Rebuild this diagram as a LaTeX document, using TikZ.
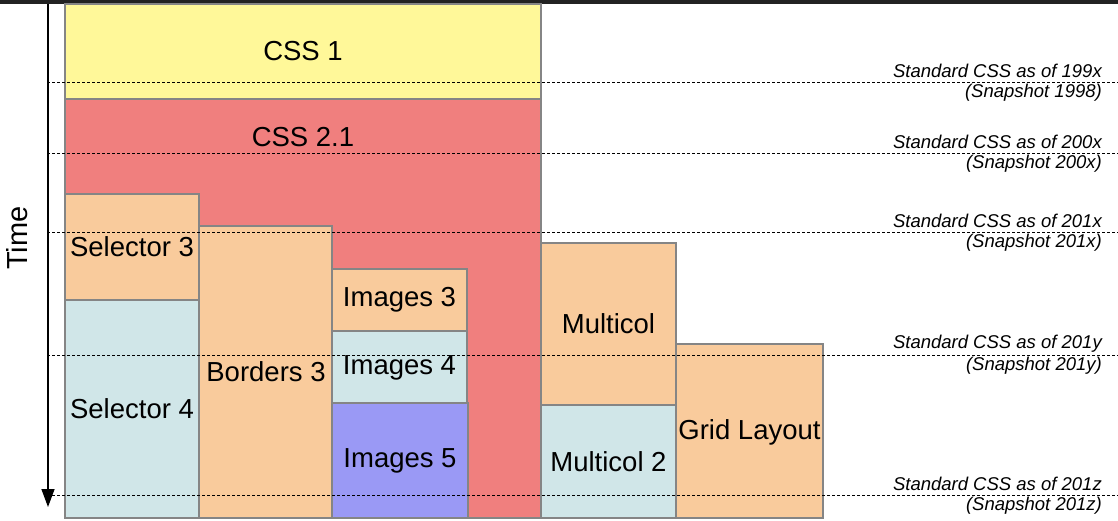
\documentclass[tikz,border=0pt]{standalone}
\usepackage{fontspec}
\setmainfont{Liberation Sans}
\usetikzlibrary{arrows.meta}
\definecolor{cyellow}{HTML}{FFF899}
\definecolor{cred}{HTML}{F07F7E}
\definecolor{corange}{HTML}{F9CB9C}
\definecolor{cblue}{HTML}{D0E6E8}
\definecolor{cpurple}{HTML}{9A99F5}
\definecolor{cedge}{HTML}{858585}
\definecolor{ctop}{HTML}{222222}
\tikzset{
  box/.style={draw=cedge, line width=1.2pt},
  boxlabel/.style={font=\fontsize{27.5}{30}\selectfont, inner sep=0pt},
  stdline/.style={draw=black, line width=0.9pt, dash pattern=on 3pt off 2pt},
  stdlabel/.style={font=\fontsize{18.5}{22}\selectfont\itshape, anchor=east, inner sep=0pt},
  timearrow/.style={draw=black, line width=1.4pt, -{Triangle[width=13pt,length=18pt]}},
}
\begin{document}
\begin{tikzpicture}[x=1pt,y=-1pt]
\useasboundingbox (0,0) rectangle (1118,520);
\fill[ctop] (0,0) rectangle (1118,3.5);
% boxes
\path[box, fill=cred] (65,99) rectangle (541,518);
\path[box, fill=cyellow] (65,4) rectangle (541,99);
\node[boxlabel] (css1) at (303,51) {CSS 1};
\node[boxlabel] (css21) at (303,137) {CSS 2.1};
\path[box, fill=corange] (65,194) rectangle (199,300);
\node[boxlabel] (sel3) at (132,247) {Selector 3};
\path[box, fill=cblue] (65,300) rectangle (199,518);
\node[boxlabel] (sel4) at (132,409) {Selector 4};
\path[box, fill=corange] (199,226) rectangle (332,518);
\node[boxlabel] (bord3) at (266,372) {Borders 3};
\path[box, fill=corange] (332,269) rectangle (467,331);
\node[boxlabel] (img3) at (399.5,300) {Images 3};
\path[box, fill=cblue] (332,331) rectangle (467,403);
\node[boxlabel] (img4) at (399.5,368) {Images 4};
\path[box, fill=cpurple] (332,403) rectangle (468,518);
\node[boxlabel] (img5) at (400,461) {Images 5};
\path[box, fill=corange] (541,243) rectangle (676,405);
\node[boxlabel] (mc) at (608.5,324) {Multicol};
\path[box, fill=cblue] (541,405) rectangle (676,518);
\node[boxlabel] (mc2) at (608.5,462) {Multicol 2};
\path[box, fill=corange] (676,344) rectangle (823,518);
\node[boxlabel] (grid) at (749.5,432) {Grid Layout};
% time arrow
\coordinate (tstart) at (48,4);
\coordinate (tend) at (48,507);
\draw[timearrow] (tstart) -- (tend);
\node[font=\fontsize{29}{32}\selectfont, rotate=90, inner sep=0pt] (time) at (17,238) {Time};
% standard lines
\foreach \y/\a/\b/\n in {82/199x/1998/a, 153/200x/200x/b, 232/201x/201x/c, 355/201y/201y/d, 495/201z/201z/e}{
  \coordinate (l\n) at (47,\y);
  \coordinate (r\n) at (1118,\y);
  \draw[stdline] (l\n) -- (r\n);
  \node[stdlabel] (s\n) at (1102,\y-11) {Standard CSS as of \a};
  \node[stdlabel] (p\n) at (1102,\y+11) {(Snapshot \b)};
}
\end{tikzpicture}
\end{document}
